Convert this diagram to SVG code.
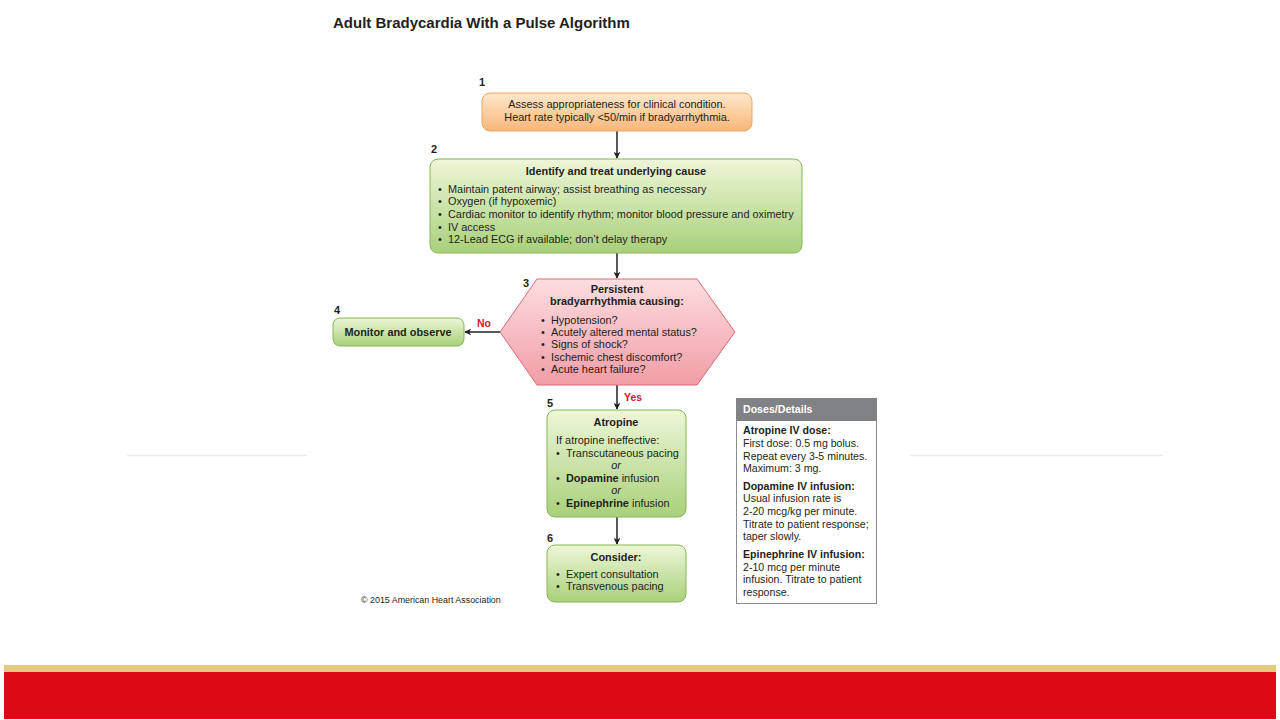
<svg xmlns="http://www.w3.org/2000/svg" width="1280" height="720" viewBox="0 0 1280 720">
<defs>
<linearGradient id="gOr" x1="0" y1="0" x2="0" y2="1"><stop offset="0" stop-color="#FEE8CC"/><stop offset="1" stop-color="#F8B678"/></linearGradient>
<linearGradient id="gGr" x1="0" y1="0" x2="0" y2="1"><stop offset="0" stop-color="#EEF6D8"/><stop offset="1" stop-color="#A8D07A"/></linearGradient>
<linearGradient id="gPk" x1="0" y1="0" x2="0" y2="1"><stop offset="0" stop-color="#FCDDE0"/><stop offset="1" stop-color="#F19DA6"/></linearGradient>
<marker id="ah" viewBox="0 0 10 10" refX="9" refY="5" markerWidth="7" markerHeight="7" orient="auto" markerUnits="userSpaceOnUse"><path d="M0,0 L10,5 L0,10 L3,5 z" fill="#231F20"/></marker>
<style>
text{font-family:"Liberation Sans",Arial,sans-serif;fill:#231F20;font-size:10.9px}
.b{font-weight:bold}
.c{text-anchor:middle}
.num{font-weight:bold;font-size:11px}
.red{fill:#D71920;font-weight:bold;font-size:10.5px}
.it{font-style:italic}
.d{font-size:10.6px}
.g{fill:url(#gGr);stroke:#84B654;stroke-width:1}
.cn line{stroke:#231F20;stroke-width:1.5;marker-end:url(#ah)}
</style>
</defs>
<rect x="0" y="0" width="1280" height="720" fill="#FFFFFF"/>
<line x1="127" y1="455.5" x2="307" y2="455.5" stroke="#EBEBEB" stroke-width="1.5"/>
<line x1="910" y1="455.5" x2="1163" y2="455.5" stroke="#EBEBEB" stroke-width="1.5"/>
<rect x="4" y="665" width="1272" height="7" fill="#E9C97E"/>
<rect x="4" y="672" width="1272" height="47" fill="#DC0A14"/>

<text x="333" y="28" class="b" style="font-size:15px">Adult Bradycardia With a Pulse Algorithm</text>

<g id="connectors" class="cn">
<line x1="617" y1="131" x2="617" y2="158"/>
<line x1="617" y1="253" x2="617" y2="278"/>
<line x1="500" y1="332" x2="465" y2="332"/>
<line x1="617" y1="385" x2="617" y2="409"/>
<line x1="617" y1="517" x2="617" y2="544"/>
<text x="477" y="327" class="red">No</text>
<text x="624" y="401" class="red">Yes</text>
</g>

<g id="node1">
<text x="479" y="86" class="num">1</text>
<rect x="482" y="93" width="270" height="38" rx="8" fill="url(#gOr)" stroke="#EDA566"/>
<text x="617" y="108" class="c">Assess appropriateness for clinical condition.</text>
<text x="617" y="121" class="c">Heart rate typically &lt;50/min if bradyarrhythmia.</text>
</g>

<g id="node2">
<text x="431" y="153" class="num">2</text>
<rect x="430" y="159" width="372" height="94" rx="8" class="g"/>
<text x="616" y="175" class="c b">Identify and treat underlying cause</text>
<text x="438" y="193">•</text><text x="448" y="193">Maintain patent airway; assist breathing as necessary</text>
<text x="438" y="205">•</text><text x="448" y="205">Oxygen (if hypoxemic)</text>
<text x="438" y="218">•</text><text x="448" y="218">Cardiac monitor to identify rhythm; monitor blood pressure and oximetry</text>
<text x="438" y="231">•</text><text x="448" y="231">IV access</text>
<text x="438" y="243">•</text><text x="448" y="243">12-Lead ECG if available; don’t delay therapy</text>
</g>

<g id="node3">
<text x="523" y="287" class="num">3</text>
<polygon points="500,332 537,279 697,279 735,332 697,385 537,385" fill="url(#gPk)" stroke="#DC6A76"/>
<text x="617" y="293" class="c b">Persistent</text>
<text x="617" y="305" class="c b">bradyarrhythmia causing:</text>
<text x="541" y="324">•</text><text x="551" y="324">Hypotension?</text>
<text x="541" y="336">•</text><text x="551" y="336">Acutely altered mental status?</text>
<text x="541" y="348">•</text><text x="551" y="348">Signs of shock?</text>
<text x="541" y="361">•</text><text x="551" y="361">Ischemic chest discomfort?</text>
<text x="541" y="373">•</text><text x="551" y="373">Acute heart failure?</text>
</g>

<g id="node4">
<text x="334" y="314" class="num">4</text>
<rect x="333" y="318" width="131" height="28" rx="7" class="g"/>
<text x="398" y="336" class="c b">Monitor and observe</text>
</g>

<g id="node5">
<text x="547" y="407" class="num">5</text>
<rect x="547" y="410" width="139" height="107" rx="8" class="g"/>
<text x="616" y="426" class="c b">Atropine</text>
<text x="556" y="444">If atropine ineffective:</text>
<text x="556" y="457">•</text><text x="566" y="457">Transcutaneous pacing</text>
<text x="616" y="469" class="c it">or</text>
<text x="556" y="482">•</text><text x="566" y="482"><tspan class="b">Dopamine</tspan> infusion</text>
<text x="616" y="494" class="c it">or</text>
<text x="556" y="507">•</text><text x="566" y="507"><tspan class="b">Epinephrine</tspan> infusion</text>
</g>

<g id="node6">
<text x="547" y="542" class="num">6</text>
<rect x="547" y="545" width="139" height="57" rx="8" class="g"/>
<text x="616" y="561" class="c b">Consider:</text>
<text x="556" y="578">•</text><text x="566" y="578">Expert consultation</text>
<text x="556" y="590">•</text><text x="566" y="590">Transvenous pacing</text>
</g>

<g id="doses">
<rect x="736.5" y="398.5" width="140" height="205" fill="#FFFFFF" stroke="#8A8C8E"/>
<rect x="736.5" y="398.5" width="140" height="22" fill="#808285" stroke="#808285"/>
<text x="743" y="413" class="b d" style="fill:#FFFFFF">Doses/Details</text>
<text x="743" y="434" class="b d">Atropine IV dose:</text>
<text x="743" y="447" class="d">First dose: 0.5 mg bolus.</text>
<text x="743" y="460" class="d">Repeat every 3-5 minutes.</text>
<text x="743" y="472" class="d">Maximum: 3 mg.</text>
<text x="743" y="490" class="b d">Dopamine IV infusion:</text>
<text x="743" y="502" class="d">Usual infusion rate is</text>
<text x="743" y="515" class="d">2-20 mcg/kg per minute.</text>
<text x="743" y="528" class="d">Titrate to patient response;</text>
<text x="743" y="540" class="d">taper slowly.</text>
<text x="743" y="558" class="b d">Epinephrine IV infusion:</text>
<text x="743" y="571" class="d">2-10 mcg per minute</text>
<text x="743" y="583" class="d">infusion. Titrate to patient</text>
<text x="743" y="596" class="d">response.</text>
</g>

<text x="361" y="603" style="font-size:8.9px">© 2015 American Heart Association</text>
</svg>
